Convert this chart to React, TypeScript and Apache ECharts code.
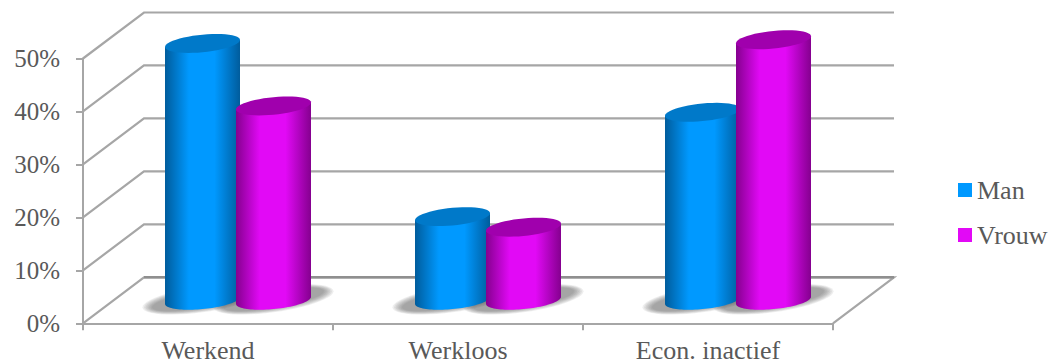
import React, { useEffect, useRef } from "react";
import * as echarts from "echarts";

const categories = ["Werkend", "Werkloos", "Econ. inactief"];
const man = [48.5, 15.8, 35.5];
const vrouw = [36.7, 13.8, 49.2];
const wallTicks = [0, 10, 20, 30, 40, 50];

const FONT = "Liberation Serif";
const TEXT = "#595959";
const DEPTH_X = 61;
const DEPTH_Y = 46;
const SLOT_OFFSET = 35.5;
const RADIUS_X = 37.5;
const RADIUS_Y = 8.8;
const TILT = -3.5;

// Sheared ellipse used for cylinder caps, bases and floor shadows.
function arc(cx: number, cy: number, rx: number, ry: number, k: number, from: number, to: number) {
  const pts: number[][] = [];
  const n = 48;
  for (let i = 0; i <= n; i++) {
    const t = from + ((to - from) * i) / n;
    pts.push([cx + rx * Math.cos(t), cy + ry * Math.sin(t) + k * Math.cos(t)]);
  }
  return pts;
}

function cylinderSeries(name: string, values: number[], slot: number, side: string, mid: string, cap: string) {
  return {
    type: "custom",
    name,
    z: 4,
    itemStyle: { color: mid },
    data: values.map((v, i) => [i, v]),
    encode: { x: 0, y: 1 },
    renderItem: (_p: any, api: any) => {
      const [catX, top] = api.coord([api.value(0), api.value(1)]);
      const [, base] = api.coord([api.value(0), 0]);
      const cx = catX + DEPTH_X / 2 - 0.5 + slot * SLOT_OFFSET;
      const yTop = top - DEPTH_Y / 2;
      const yBase = base - DEPTH_Y / 2;
      const bottom = arc(cx, yBase, RADIUS_X, RADIUS_Y, TILT, Math.PI, 0);
      const body = [...bottom, [cx + RADIUS_X, yTop + TILT], [cx - RADIUS_X, yTop - TILT]];
      return {
        type: "group",
        children: [
          {
            type: "polygon",
            shape: { points: body },
            style: {
              fill: new echarts.graphic.LinearGradient(0, 0, 1, 0, [
                { offset: 0, color: side },
                { offset: 0.32, color: mid },
                { offset: 0.66, color: mid },
                { offset: 1, color: side },
              ]),
            },
          },
          {
            type: "polygon",
            shape: { points: arc(cx, yTop, RADIUS_X, RADIUS_Y, TILT, 0, Math.PI * 2) },
            style: { fill: cap },
          },
        ],
      };
    },
  };
}

// Soft floor shadow, built from nested translucent ellipses.
function shadowSeries(values: number[], slot: number) {
  return {
    type: "custom",
    z: 3,
    data: values.map((v, i) => [i, v]),
    encode: { x: 0, y: 1 },
    renderItem: (_p: any, api: any) => {
      const [catX, base] = api.coord([api.value(0), 0]);
      const cx = catX + DEPTH_X / 2 - 0.5 + slot * SLOT_OFFSET;
      const children = [];
      for (let i = 0; i < 7; i++) {
        children.push({
          type: "polygon",
          shape: { points: arc(cx, base - DEPTH_Y / 2 - 1, 60 - i * 1.6, 13 - i * 0.7, -8, 0, Math.PI * 2) },
          style: { fill: "#555555", opacity: 0.1 },
        });
      }
      return { type: "group", children };
    },
  };
}

// Side wall and back wall gridlines, plus the floor's right edge.
const wallSeries = {
  type: "custom",
  z: 2,
  data: wallTicks.map((v) => [0, v]),
  encode: { y: 1 },
  renderItem: (p: any, api: any) => {
    const v = api.value(1);
    const [, y] = api.coord([0, v]);
    const { x, width } = p.coordSys;
    const points = [
      [x, y],
      [x + DEPTH_X, y - DEPTH_Y],
      [x + width + DEPTH_X, y - DEPTH_Y],
    ];
    if (v === 0) points.push([x + width, y]);
    const children: any[] = [
      { type: "polyline", shape: { points }, style: { fill: "none", stroke: "#a6a6a6", lineWidth: 2.2 } },
    ];
    if (v === 0) {
      children.push({
        type: "line",
        shape: { x1: x + DEPTH_X, y1: y - DEPTH_Y, x2: x + width + DEPTH_X, y2: y - DEPTH_Y },
        style: { stroke: "#8f8f8f", lineWidth: 2.6 },
      });
    }
    return { type: "group", children };
  },
};

export default function App() {
  const ref = useRef<HTMLDivElement>(null);
  useEffect(() => {
    const chart = echarts.init(ref.current!, null, { renderer: "svg" });
    chart.setOption({
      animation: false,
      backgroundColor: "#ffffff",
      grid: { left: 83, top: 58.5, width: 750, bottom: 40.7, outerBoundsMode: "none" },
      legend: {
        show: true,
        data: ["Man", "Vrouw"],
        orient: "vertical",
        left: 958,
        top: 177,
        padding: 0,
        icon: "rect",
        itemWidth: 14,
        itemHeight: 14,
        itemGap: 19,
        textStyle: { fontFamily: FONT, fontSize: 26, color: TEXT, padding: [0, 0, 0, 0] },
      },
      xAxis: {
        type: "category",
        data: categories,
        axisLine: { lineStyle: { color: "#a6a6a6", width: 2 } },
        axisTick: { show: true, length: 7, lineStyle: { color: "#a6a6a6", width: 2 } },
        axisLabel: { fontFamily: FONT, fontSize: 26, lineHeight: 20, color: TEXT, margin: 17 },
        splitLine: { show: false },
      },
      yAxis: {
        type: "value",
        min: 0,
        max: 50,
        interval: 10,
        axisLine: { show: true, lineStyle: { color: "#a6a6a6", width: 2 } },
        axisTick: { show: true, length: 7, lineStyle: { color: "#a6a6a6", width: 2 } },
        axisLabel: { fontFamily: FONT, fontSize: 25, color: TEXT, margin: 23, formatter: "{value}%" },
        splitLine: { show: false },
      },
      series: [
        wallSeries,
        shadowSeries(man, -1),
        shadowSeries(vrouw, 1),
        cylinderSeries("Man", man, -1, "#005c9c", "#0099ff", "#0079c9"),
        cylinderSeries("Vrouw", vrouw, 1, "#85008f", "#e209f6", "#a000ad"),
      ],
    });
    return () => chart.dispose();
  }, []);
  return <div ref={ref} style={{ position: "fixed", left: 0, top: 0, width: 1052, height: 364 }} />;
}
